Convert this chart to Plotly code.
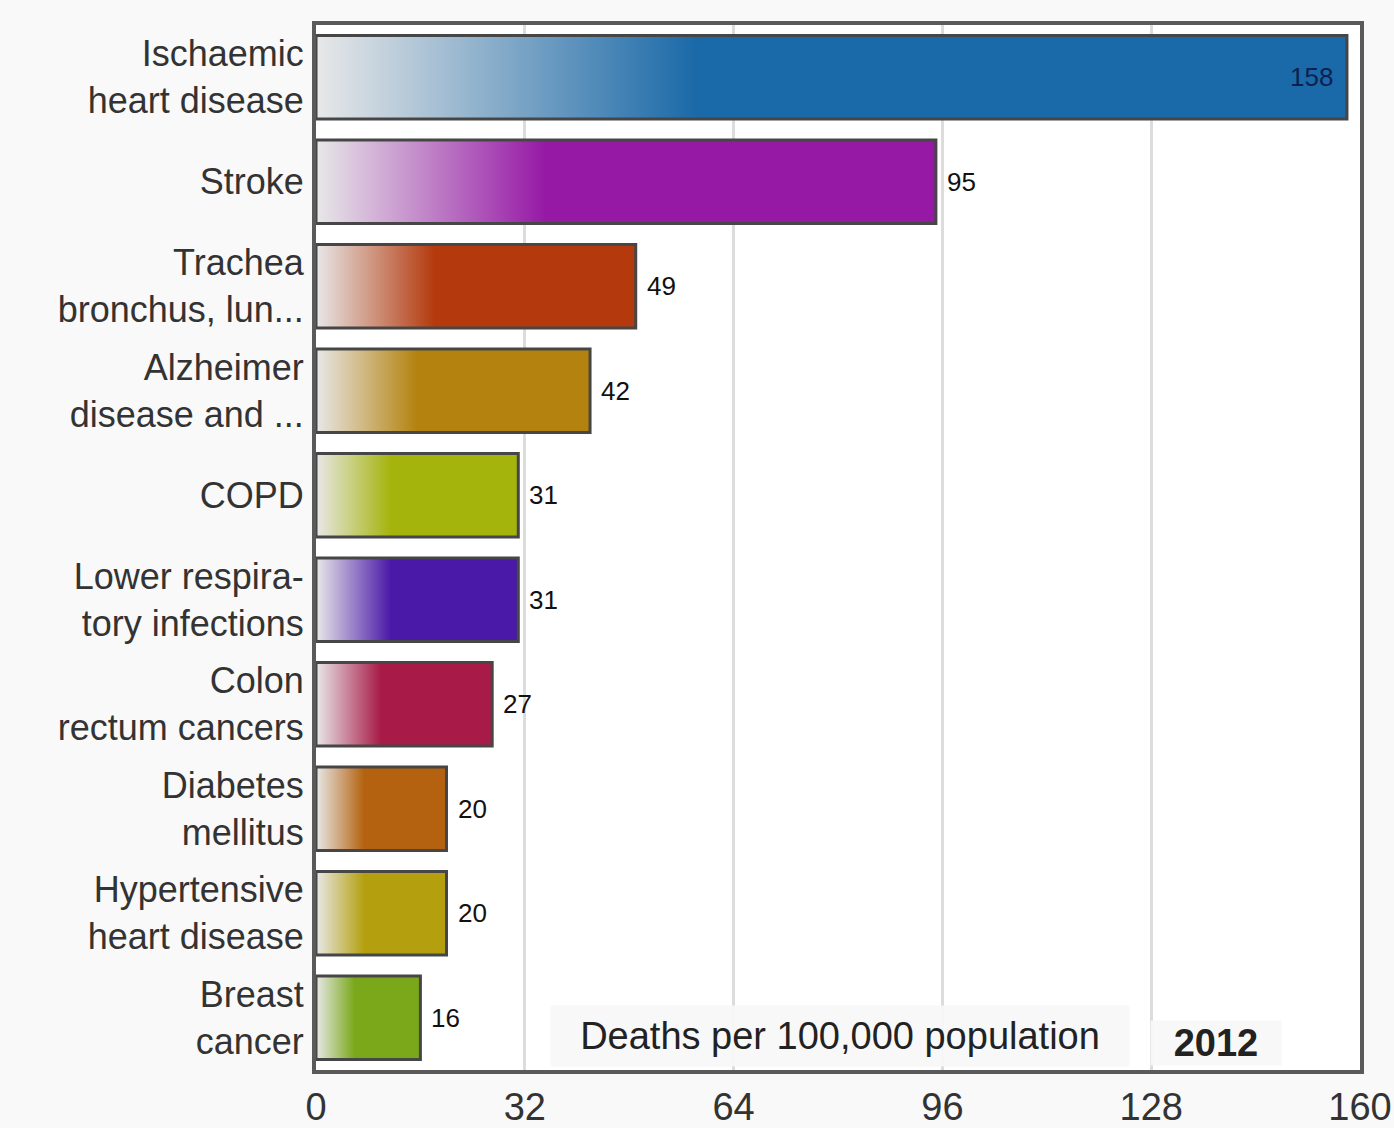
import plotly.graph_objects as go

categories = [
    "Ischaemic<br>heart disease",
    "Stroke",
    "Trachea<br>bronchus, lun...",
    "Alzheimer<br>disease and ...",
    "COPD",
    "Lower respira-<br>tory infections",
    "Colon<br>rectum cancers",
    "Diabetes<br>mellitus",
    "Hypertensive<br>heart disease",
    "Breast<br>cancer",
]
values = [158, 95, 49, 42, 31, 31, 27, 20, 20, 16]
colors = [
    "rgb(26,105,168)",
    "rgb(150,25,166)",
    "rgb(180,58,14)",
    "rgb(180,130,15)",
    "rgb(165,180,12)",
    "rgb(75,25,168)",
    "rgb(168,26,72)",
    "rgb(180,98,15)",
    "rgb(180,160,15)",
    "rgb(122,168,26)",
]
x_ticks = [0, 32, 64, 96, 128, 160]
x_title = "Deaths per 100,000 population"
year = "2012"

FONT = "Liberation Sans, Arial, sans-serif"
HALF = 0.4

fig = go.Figure()

for i, (v, c) in enumerate(zip(values, colors)):
    fig.add_trace(go.Scatter(
        x=[0, v, v, 0, 0],
        y=[i - HALF, i - HALF, i + HALF, i + HALF, i - HALF],
        mode="lines",
        fill="toself",
        fillgradient=dict(
            type="horizontal",
            start=0,
            stop=v,
            colorscale=[[0, "rgb(232,232,232)"], [0.37, c], [1, c]],
        ),
        line=dict(color="#464646", width=3),
        hoverinfo="skip",
        showlegend=False,
    ))

annotations = []
for i, v in enumerate(values):
    inside = v > 150
    annotations.append(dict(
        x=v, y=i, xref="x", yref="y",
        text=str(v),
        showarrow=False,
        xanchor="right" if inside else "left",
        xshift=-12 if inside else 9,
        font=dict(family=FONT, size=26, color="#0d2150" if inside else "#111111"),
    ))

annotations.append(dict(
    x=0.502, y=0, xref="paper", yref="paper",
    xanchor="center", yanchor="bottom", yshift=3,
    text=x_title, showarrow=False,
    font=dict(family=FONT, size=38, color="#222222"),
    bgcolor="rgba(247,247,247,0.92)", borderpad=9, width=560,
))
annotations.append(dict(
    x=0.862, y=0, xref="paper", yref="paper",
    xanchor="center", yanchor="bottom", yshift=4,
    text="<b>" + year + "</b>", showarrow=False,
    font=dict(family=FONT, size=38, color="#222222"),
    bgcolor="rgba(247,247,247,0.92)", borderpad=1, width=128,
))

fig.update_layout(
    width=1394, height=1128,
    margin=dict(l=316, r=34, t=25, b=58, autoexpand=False),
    paper_bgcolor="#f9f9f9",
    plot_bgcolor="#ffffff",
    annotations=annotations,
    xaxis=dict(
        range=[0, 160],
        tickvals=x_ticks,
        showgrid=True, gridcolor="#dcdcdc", gridwidth=3,
        showline=True, linecolor="#5a5a5a", linewidth=4, mirror=True,
        zeroline=False,
        ticks="",
        automargin=False,
        tickfont=dict(family=FONT, size=38, color="#333333"),
        fixedrange=True,
    ),
    yaxis=dict(
        range=[9.5, -0.5],
        tickvals=list(range(len(categories))),
        ticktext=categories,
        showgrid=False,
        zeroline=False,
        showline=True, linecolor="#5a5a5a", linewidth=4, mirror=True,
        ticks="",
        automargin=False,
        ticklabelstandoff=1,
        tickfont=dict(family=FONT, size=36, color="#333333"),
        fixedrange=True,
    ),
)

fig.write_html("out.html")
